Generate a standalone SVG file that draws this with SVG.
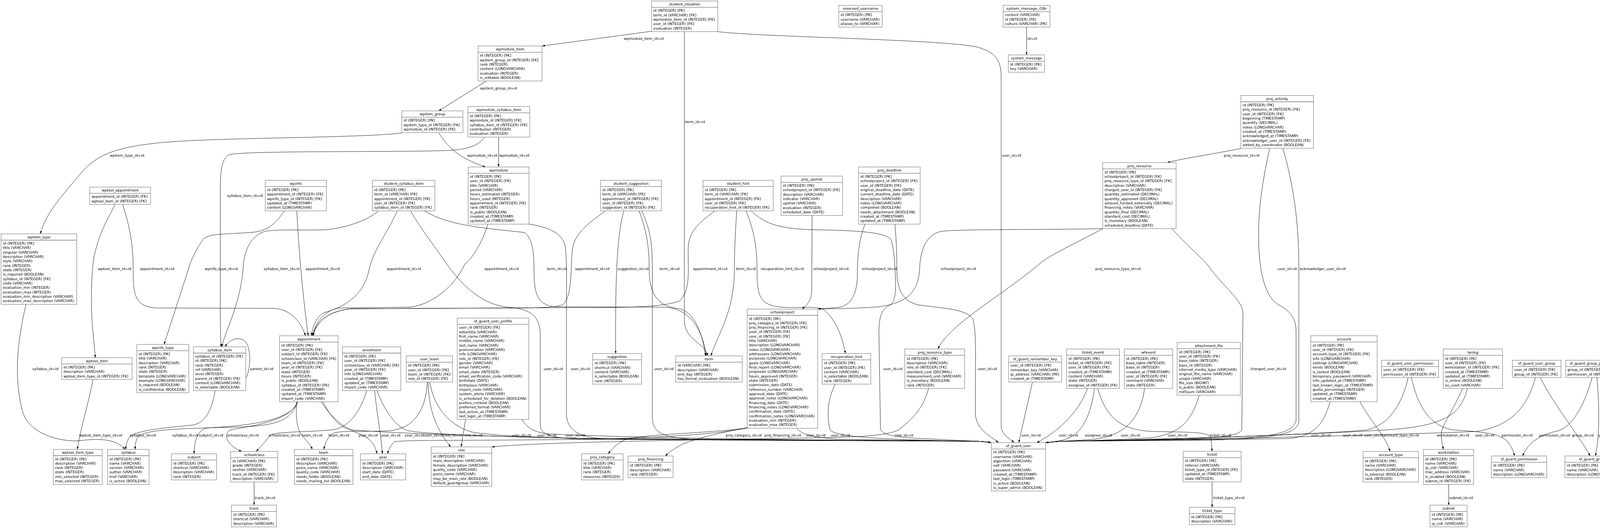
<svg xmlns="http://www.w3.org/2000/svg" width="4176" height="1351" viewBox="0 0 4176 1351">
<style>
.t{font-family:"DejaVu Sans",Verdana,sans-serif;font-size:9.2px;fill:#000}
.h{text-anchor:middle}
.b{fill:#fff;stroke:#777;stroke-width:1.1}
.s{stroke:#777;stroke-width:1.3}
.e{fill:none;stroke:#000;stroke-width:0.9;marker-end:url(#a)}
</style>
<defs>
<marker id="a" viewBox="0 0 10 7" refX="10" refY="3.5" markerWidth="7" markerHeight="4.9" markerUnits="userSpaceOnUse" orient="auto"><path d="M0,0L10,3.5L0,7z" fill="#000"/></marker>
</defs>
<rect width="4176" height="1351" fill="#fff"/>
<g id="connectors">
<path class="e" d="M1668,80 L1388,117.7"/>
<path class="e" d="M1752,81 L1752,820 C1752,870 1806,878 1812,910.6"/>
<path class="e" d="M1838,81 C1950,95 2400,100 2500,120 C2555,135 2563,160 2563,200 L2563,1090 C2563,1112 2585,1122 2596,1132.5"/>
<path class="e" d="M1244,208 L1123,283.7"/>
<path class="e" d="M1029,340 C950,352 600,352 450,362 C300,372 250,395 210,440 C160,500 120,540 103,598.4"/>
<path class="e" d="M1124,340.6 C1150,385 1190,410 1243,427.3"/>
<path class="e" d="M1276.4,350.8 L1276.4,427.3"/>
<path class="e" d="M1241,350.8 C1225,372 1200,382 1150,385 C1000,390 650,385 590,395 C570,400 564,430 564,480 L564,800 C564,850 565,870 566,887.4"/>
<path class="e" d="M66.6,778.6 C50,850 30,960 60,1060 C80,1110 150,1130 200,1128 C260,1120 300,1125 320,1149.9"/>
<path class="e" d="M295,522.8 C270,570 253,600 240,660 C232,720 232,800 240,870 L244,915.3"/>
<path class="e" d="M314,522.8 C335,590 341,630 341,700 C341,760 350,785 400,788 L700,789 C740,790 770,820 782,859.2"/>
<path class="e" d="M728,539.6 C700,580 680,592 640,595 C560,600 530,598 518,615 C505,635 490,660 482,690 L420,881.3"/>
<path class="e" d="M760,539.6 C765,650 778,780 789,859.2"/>
<path class="e" d="M969,539.6 C940,565 880,585 830,588 C760,590 690,585 670,595 C640,610 625,640 622,690 C615,780 575,850 568,887.4"/>
<path class="e" d="M1017,539.6 C990,600 955,640 945,690 C930,760 880,785 830,800 C810,810 800,835 797,859.2"/>
<path class="e" d="M1087,539.6 C1150,580 1260,585 1343,595 C1362,610 1367,640 1367,690 C1367,750 1375,780 1420,785 L1700,786 C1770,788 1800,850 1808,910.6"/>
<path class="e" d="M1051,539.6 C1080,590 1120,640 1144,676 C1190,740 1240,780 1300,786 C1360,790 1380,810 1383,850 L1383,1090 C1385,1115 1420,1122 1500,1124 L2500,1129 C2520,1130 2530,1131.5 2537,1132.5"/>
<path class="e" d="M1249,573.5 C1235,620 1210,660 1190,676 C1160,740 1100,780 1050,786 L870,788 C830,792 805,830 800,859.2"/>
<path class="e" d="M1354,573.5 C1400,580 1440,595 1447,630 C1452,680 1450,720 1450,800 L1450,1060 C1452,1100 1480,1118 1540,1122 L2500,1129 C2520,1130 2530,1131.5 2537,1132.5"/>
<path class="e" d="M1550,539.6 C1500,575 1470,600 1465,640 C1460,700 1465,760 1440,780 C1420,788 1350,788 1300,788 L900,790 C840,795 808,825 800,859.2"/>
<path class="e" d="M1597,539.6 C1580,600 1575,700 1576,904.6"/>
<path class="e" d="M1636,539.6 C1655,590 1662,630 1662,690 C1662,760 1690,785 1740,790 C1780,800 1800,860 1806,910.6"/>
<path class="e" d="M1643,539.6 C1665,590 1670,620 1670,690 L1670,1070 C1672,1110 1700,1122 1800,1125 L2500,1129 C2520,1130 2530,1131.5 2537,1132.5"/>
<path class="e" d="M1830,539.6 C1790,570 1765,590 1762,630 C1760,690 1770,740 1740,770 C1700,786 1600,787 1500,787 L900,790 C840,795 808,825 802,859.2"/>
<path class="e" d="M1886,539.6 C1882,600 1880,650 1880,690 C1880,800 1835,860 1820,910.6"/>
<path class="e" d="M1910,539.6 C1930,590 1938,630 1938,690 C1938,760 1945,780 2000,786 C2050,789 2090,782 2108,792 C2132,810 2155,850 2164,904.6"/>
<path class="e" d="M1923,539.6 C1960,575 2000,586 2088,588 C2200,590 2270,594 2282,615 C2288,640 2290,660 2292,700 C2295,760 2290,778 2270,785 C2258,795 2250,810 2250,850 L2254,1098 C2260,1115 2300,1120 2400,1124 L2500,1129 C2520,1130 2530,1131.5 2537,1132.5"/>
<path class="e" d="M2079,551 L2078,740 C2078,770 2066,780 2053,790.9"/>
<path class="e" d="M2214.5,573.5 C2200,610 2195,650 2195,700 C2195,750 2180,780 2150,786 C2120,789 2105,790 2094,790.5"/>
<path class="e" d="M2291,573.5 C2294,610 2296,640 2296,690 C2296,740 2310,770 2350,780 C2420,790 2470,790 2490,815 C2500,850 2497,900 2497,1000 L2497,1060 C2500,1100 2535,1115 2556,1132.5"/>
<path class="e" d="M2823,585 C2700,588 2450,586 2410,592 C2370,600 2356,640 2354,690 C2350,750 2320,775 2250,785 C2180,790 2120,790 2094,790.5"/>
<path class="e" d="M2823,585 C2760,620 2690,650 2660,676 C2560,760 2430,830 2401,893"/>
<path class="e" d="M3000,585 C3050,640 3090,670 3100,690 C3140,740 3180,770 3182,800 L3179,1100 C3170,1118 3100,1122 3000,1124 L2720,1129 C2700,1130 2690,1131.5 2677,1132.5"/>
<path class="e" d="M3177,380 C3100,395 3030,405 2988,416"/>
<path class="e" d="M3250.5,379.3 C3235,450 3222,520 3222,600 C3222,700 3240,760 3272,779 C3300,795 3318,810 3318,850 L3318,1076 C3310,1110 3250,1120 3100,1124 L2720,1129 C2700,1130 2690,1131.5 2677,1132.5"/>
<path class="e" d="M3284,379.3 C3305,450 3325,550 3325,676 L3325,1080 C3318,1112 3260,1122 3100,1126 L2720,1129 C2700,1130 2690,1131.5 2677,1132.5"/>
<path class="e" d="M238,970.9 C225,1040 205,1100 198,1149.9"/>
<path class="e" d="M551,999.6 C540,1060 520,1085 490,1088 C420,1095 360,1100 335,1115 C325,1125 322,1140 322,1149.9"/>
<path class="e" d="M629.2,968 C640,950 645,900 630,876 C615,860 590,865 576,887.4"/>
<path class="e" d="M762,1028 C745,1080 700,1090 600,1093 C480,1096 380,1098 355,1115 C348,1125 346,1135 346,1149.9"/>
<path class="e" d="M762,1028 C745,1080 620,1090 530,1095 C505,1100 497,1130 497,1161.1"/>
<path class="e" d="M762,1028 C740,1080 640,1090 590,1100 C570,1110 580,1140 619,1155.1"/>
<path class="e" d="M759,1028 C758,1060 758,1090 770,1110 C780,1125 795,1135 799,1149.9"/>
<path class="e" d="M822,1028 C850,1070 880,1095 920,1110 C945,1120 960,1135 965,1161.1"/>
<path class="e" d="M826,1028 C850,1070 870,1095 900,1100 C1000,1108 1200,1115 1500,1122 L2500,1129 C2520,1130 2530,1131.5 2537,1132.5"/>
<path class="e" d="M939,999.6 C920,1060 890,1095 850,1100 C780,1106 700,1104 690,1115 C680,1130 665,1145 656,1155.1"/>
<path class="e" d="M959,999.6 C965,1060 975,1110 979,1161.1"/>
<path class="e" d="M965,999.6 C985,1050 1010,1090 1044,1102 C1100,1112 1300,1118 1500,1122 L2500,1129 C2520,1130 2530,1131.5 2537,1132.5"/>
<path class="e" d="M1094,977.5 C1090,1050 1060,1095 1000,1102 C920,1106 870,1100 850,1110 C838,1120 832,1135 829,1149.9"/>
<path class="e" d="M1096,977.5 C1098,1040 1110,1090 1154,1143.5"/>
<path class="e" d="M1100,977.5 C1110,1040 1150,1090 1210,1106 C1300,1120 1500,1124 2000,1127 L2500,1129 C2520,1130 2530,1131.5 2537,1132.5"/>
<path class="e" d="M1192,1073 L1180.5,1143.5"/>
<path class="e" d="M1336,1073 C1350,1095 1365,1105 1400,1110 C1600,1120 2000,1126 2500,1129 C2520,1130 2530,1131.5 2537,1132.5"/>
<path class="e" d="M2377,994 C2365,1040 2340,1070 2300,1100 C2270,1115 2200,1118 2100,1120 C1800,1126 1400,1130 1259,1143.5"/>
<path class="e" d="M1913,1095 C1800,1110 1650,1110 1600,1125 C1580,1135 1565,1150 1557,1161.1"/>
<path class="e" d="M1915,1095 C1850,1105 1790,1120 1750,1135 C1730,1145 1715,1155 1703,1166.7"/>
<path class="e" d="M1913,1094 C1850,1110 1700,1120 1500,1124 C1200,1128 1050,1125 1010,1130 C1000,1140 995,1150 992,1161.1"/>
<path class="e" d="M2039,1095.7 C2050,1110 2080,1120 2150,1124 L2500,1129 C2520,1130 2530,1131.5 2537,1132.5"/>
<path class="e" d="M2138,982.8 C2120,1020 2115,1060 2125,1100 C2140,1118 2250,1125 2500,1129 C2520,1130 2530,1131.5 2537,1132.5"/>
<path class="e" d="M650.5,1233.4 L650.5,1292.5"/>
<path class="e" d="M2628,69.4 L2628,140.5"/>
<path class="e" d="M2643,977.5 L2608,1132.5"/>
<path class="e" d="M2784,993.9 C2760,1060 2700,1110 2654,1132.5"/>
<path class="e" d="M2802,993.9 C2790,1080 2760,1120 2715,1127 C2700,1130 2690,1131.5 2677,1132.5"/>
<path class="e" d="M2810,993.9 C2830,1060 2860,1100 2950,1104 C3050,1106 3095,1105 3100,1120 L3103,1154.7"/>
<path class="e" d="M2930,993.9 C2920,1070 2880,1115 2800,1124 L2720,1129 C2700,1130 2690,1131.5 2677,1132.5"/>
<path class="e" d="M3070,1011.1 C3050,1080 3020,1108 2950,1120 C2850,1126 2760,1128 2720,1129 C2700,1130 2690,1131.5 2677,1132.5"/>
<path class="e" d="M3103,1233 L3103,1298"/>
<path class="e" d="M3405,1028 C3390,1080 3370,1115 3300,1122 C3100,1126 2800,1128 2720,1129 C2700,1130 2690,1131.5 2677,1132.5"/>
<path class="e" d="M3481.5,1028 C3510,1080 3550,1120 3558,1155.1"/>
<path class="e" d="M3605,966 C3590,1030 3560,1085 3500,1100 C3400,1110 3000,1125 2720,1129 C2700,1130 2690,1131.5 2677,1132.5"/>
<path class="e" d="M3613,966 C3630,1040 3660,1090 3720,1100 C3800,1105 3840,1110 3860,1130 C3870,1145 3875,1155 3877,1166.7"/>
<path class="e" d="M3744.5,993.9 C3720,1050 3690,1090 3690,1110 C3690,1130 3693,1140 3695,1149.9"/>
<path class="e" d="M3756.5,993.9 C3740,1060 3700,1090 3550,1100 C3300,1115 2900,1126 2720,1129 C2700,1130 2690,1131.5 2677,1132.5"/>
<path class="e" d="M3931,966 C3910,1040 3870,1090 3780,1104 C3500,1115 3000,1126 2720,1129 C2700,1130 2690,1131.5 2677,1132.5"/>
<path class="e" d="M3943,966 C3980,1040 4040,1110 4070.7,1166.7"/>
<path class="e" d="M4076,966 C4055,1040 4025,1090 3990,1102 C3930,1115 3910,1140 3897.6,1166.7"/>
<path class="e" d="M4088,966 C4095,1040 4095,1120 4084,1166.7"/>
<path class="e" d="M3708.6,1239.5 L3708.6,1292.5"/>
<g class="t">
<text x="1597" y="102">wpmodule_item_id=id</text>
<text x="1754" y="314.5">term_id=id</text>
<text x="2565" y="401">user_id=id</text>
<text x="1229" y="228.7">wpitem_group_id=id</text>
<text x="281" y="401">wpitem_type_id=id</text>
<text x="1196" y="401">wpmodule_id=id</text>
<text x="1278" y="401">wpmodule_id=id</text>
<text x="581" y="504">syllabus_item_id=id</text>
<text x="83" y="946.5">syllabus_id=id</text>
<text x="251" y="691">wptool_item_id=id</text>
<text x="358" y="691">appointment_id=id</text>
<text x="524" y="691">wpinfo_type_id=id</text>
<text x="782" y="691">appointment_id=id</text>
<text x="675" y="691">syllabus_item_id=id</text>
<text x="990" y="691">appointment_id=id</text>
<text x="1400" y="691">term_id=id</text>
<text x="1392" y="946.5">user_id=id</text>
<text x="1240" y="691">appointment_id=id</text>
<text x="1461" y="946.5">user_id=id</text>
<text x="1472" y="691">appointment_id=id</text>
<text x="1581" y="691">suggestion_id=id</text>
<text x="1688.5" y="691">term_id=id</text>
<text x="1675" y="946.5">user_id=id</text>
<text x="1774" y="691">appointment_id=id</text>
<text x="1884" y="691">term_id=id</text>
<text x="1947.5" y="691">recuperation_hint_id=id</text>
<text x="2261" y="946.5">user_id=id</text>
<text x="2082" y="691">schoolproject_id=id</text>
<text x="2206" y="691">schoolproject_id=id</text>
<text x="2503" y="946.5">user_id=id</text>
<text x="2408" y="691">schoolproject_id=id</text>
<text x="2804" y="691">proj_resource_type_id=id</text>
<text x="3201" y="946.5">charged_user_id=id</text>
<text x="3133" y="401">proj_resource_id=id</text>
<text x="3270.5" y="691">user_id=id</text>
<text x="3327" y="691">acknowledger_user_id=id</text>
<text x="202.4" y="1117">wptool_item_type_id=id</text>
<text x="332" y="1117">syllabus_id=id</text>
<text x="640.5" y="946.5">parent_id=id</text>
<text x="441" y="1117">syllabus_id=id</text>
<text x="509" y="1117">subject_id=id</text>
<text x="581" y="1117">schoolclass_id=id</text>
<text x="772.3" y="1117">team_id=id</text>
<text x="917.4" y="1117">year_id=id</text>
<text x="1448" y="1117">user_id=id</text>
<text x="687" y="1117">schoolclass_id=id</text>
<text x="975.4" y="1117">year_id=id</text>
<text x="1086" y="1117">user_id=id</text>
<text x="841" y="1117">team_id=id</text>
<text x="1136" y="1117">role_id=id</text>
<text x="1310" y="1117">user_id=id</text>
<text x="1188" y="1117">role_id=id</text>
<text x="1375" y="1117">user_id=id</text>
<text x="2291" y="1117">role_id=id</text>
<text x="1858" y="1117">proj_category_id=id</text>
<text x="1957" y="1117">proj_financing_id=id</text>
<text x="1036" y="1117">year_id=id</text>
<text x="2064" y="1117">user_id=id</text>
<text x="2127" y="1117">user_id=id</text>
<text x="652" y="1277">track_id=id</text>
<text x="2630" y="102">id=id</text>
<text x="2615" y="1117">user_id=id</text>
<text x="2710.5" y="1117">user_id=id</text>
<text x="2777" y="1117">assignee_id=id</text>
<text x="3097" y="1117">ticket_id=id</text>
<text x="2869" y="1117">user_id=id</text>
<text x="2990" y="1117">user_id=id</text>
<text x="3106" y="1277">ticket_type_id=id</text>
<text x="3357" y="1117">user_id=id</text>
<text x="3541.5" y="1117">account_type_id=id</text>
<text x="3492" y="1117">user_id=id</text>
<text x="3844" y="1117">permission_id=id</text>
<text x="3678" y="1117">workstation_id=id</text>
<text x="3438" y="1117">user_id=id</text>
<text x="3776" y="1117">user_id=id</text>
<text x="4024" y="1117">group_id=id</text>
<text x="3940" y="1117">permission_id=id</text>
<text x="4092" y="1117">group_id=id</text>
<text x="3710" y="1277">subnet_id=id</text>
</g>
</g>
<g id="student_situation"><rect class="b" x="1667.8" y="2.6" width="169.8" height="78.25"/><line class="s" x1="1667.8" y1="18.7" x2="1837.6" y2="18.7"/><text class="t h" x="1752.7" y="14.1">student_situation</text><text class="t"><tspan x="1672.3" y="30.2">id (INTEGER) [PK]</tspan><tspan x="1672.3" dy="11.33">term_id (VARCHAR) [FK]</tspan><tspan x="1672.3" dy="11.33">wpmodule_item_id (INTEGER) [FK]</tspan><tspan x="1672.3" dy="11.33">user_id (INTEGER) [FK]</tspan><tspan x="1672.3" dy="11.33">evaluation (INTEGER)</tspan></text></g>
<g id="reserved_username"><rect class="b" x="2147.3" y="13.8" width="111.1" height="55.6"/><line class="s" x1="2147.3" y1="29.9" x2="2258.4" y2="29.9"/><text class="t h" x="2202.9" y="25.3">reserved_username</text><text class="t"><tspan x="2151.8" y="41.4">id (INTEGER) [PK]</tspan><tspan x="2151.8" dy="11.33">username (VARCHAR)</tspan><tspan x="2151.8" dy="11.33">aliases_to (VARCHAR)</tspan></text></g>
<g id="system_message_i18n"><rect class="b" x="2568" y="13.8" width="119.9" height="55.6"/><line class="s" x1="2568" y1="29.9" x2="2687.9" y2="29.9"/><text class="t h" x="2628" y="25.3">system_message_i18n</text><text class="t"><tspan x="2572.5" y="41.4">content (VARCHAR)</tspan><tspan x="2572.5" dy="11.33">id (INTEGER) [FK]</tspan><tspan x="2572.5" dy="11.33">culture (VARCHAR) [PK]</tspan></text></g>
<g id="system_message"><rect class="b" x="2581.3" y="140.5" width="92.6" height="44.26"/><line class="s" x1="2581.3" y1="156.6" x2="2673.9" y2="156.6"/><text class="t h" x="2627.6" y="152">system_message</text><text class="t"><tspan x="2585.8" y="168.1">id (INTEGER) [PK]</tspan><tspan x="2585.8" dy="11.33">key (VARCHAR)</tspan></text></g>
<g id="wpmodule_item"><rect class="b" x="1223.8" y="117.7" width="163.7" height="89.58"/><line class="s" x1="1223.8" y1="133.8" x2="1387.5" y2="133.8"/><text class="t h" x="1305.7" y="129.2">wpmodule_item</text><text class="t"><tspan x="1228.3" y="145.3">id (INTEGER) [PK]</tspan><tspan x="1228.3" dy="11.33">wpitem_group_id (INTEGER) [FK]</tspan><tspan x="1228.3" dy="11.33">rank (INTEGER)</tspan><tspan x="1228.3" dy="11.33">content (LONGVARCHAR)</tspan><tspan x="1228.3" dy="11.33">evaluation (INTEGER)</tspan><tspan x="1228.3" dy="11.33">is_editable (BOOLEAN)</tspan></text></g>
<g id="wpitem_group"><rect class="b" x="1028.6" y="283.7" width="156.5" height="55.6"/><line class="s" x1="1028.6" y1="299.8" x2="1185.1" y2="299.8"/><text class="t h" x="1106.9" y="295.2">wpitem_group</text><text class="t"><tspan x="1033.1" y="311.3">id (INTEGER) [PK]</tspan><tspan x="1033.1" dy="11.33">wpitem_type_id (INTEGER) [FK]</tspan><tspan x="1033.1" dy="11.33">wpmodule_id (INTEGER) [FK]</tspan></text></g>
<g id="wpmodule_syllabus_item"><rect class="b" x="1197.8" y="272.5" width="158.4" height="78.25"/><line class="s" x1="1197.8" y1="288.6" x2="1356.2" y2="288.6"/><text class="t h" x="1277" y="284">wpmodule_syllabus_item</text><text class="t"><tspan x="1202.3" y="300.1">id (INTEGER) [PK]</tspan><tspan x="1202.3" dy="11.33">wpmodule_id (INTEGER) [FK]</tspan><tspan x="1202.3" dy="11.33">syllabus_item_id (INTEGER) [FK]</tspan><tspan x="1202.3" dy="11.33">contribution (INTEGER)</tspan><tspan x="1202.3" dy="11.33">evaluation (INTEGER)</tspan></text></g>
<g id="proj_activity"><rect class="b" x="3176.6" y="244.4" width="185.8" height="134.9"/><line class="s" x1="3176.6" y1="260.5" x2="3362.4" y2="260.5"/><text class="t h" x="3269.5" y="255.9">proj_activity</text><text class="t"><tspan x="3181.1" y="272">id (INTEGER) [PK]</tspan><tspan x="3181.1" dy="11.33">proj_resource_id (INTEGER) [FK]</tspan><tspan x="3181.1" dy="11.33">user_id (INTEGER) [FK]</tspan><tspan x="3181.1" dy="11.33">beginning (TIMESTAMP)</tspan><tspan x="3181.1" dy="11.33">quantity (DECIMAL)</tspan><tspan x="3181.1" dy="11.33">notes (LONGVARCHAR)</tspan><tspan x="3181.1" dy="11.33">created_at (TIMESTAMP)</tspan><tspan x="3181.1" dy="11.33">acknowledged_at (TIMESTAMP)</tspan><tspan x="3181.1" dy="11.33">acknowledger_user_id (INTEGER) [FK]</tspan><tspan x="3181.1" dy="11.33">added_by_coordinator (BOOLEAN)</tspan></text></g>
<g id="wpmodule"><rect class="b" x="1198.5" y="427.3" width="155.8" height="146.2"/><line class="s" x1="1198.5" y1="443.4" x2="1354.3" y2="443.4"/><text class="t h" x="1276.4" y="438.8">wpmodule</text><text class="t"><tspan x="1203" y="454.9">id (INTEGER) [PK]</tspan><tspan x="1203" dy="11.33">user_id (INTEGER) [FK]</tspan><tspan x="1203" dy="11.33">title (VARCHAR)</tspan><tspan x="1203" dy="11.33">period (VARCHAR)</tspan><tspan x="1203" dy="11.33">hours_estimated (INTEGER)</tspan><tspan x="1203" dy="11.33">hours_used (INTEGER)</tspan><tspan x="1203" dy="11.33">appointment_id (INTEGER) [FK]</tspan><tspan x="1203" dy="11.33">rank (INTEGER)</tspan><tspan x="1203" dy="11.33">is_public (BOOLEAN)</tspan><tspan x="1203" dy="11.33">created_at (TIMESTAMP)</tspan><tspan x="1203" dy="11.33">updated_at (TIMESTAMP)</tspan></text></g>
<g id="proj_resource"><rect class="b" x="2823" y="416" width="187.8" height="168.9"/><line class="s" x1="2823" y1="432.1" x2="3010.8" y2="432.1"/><text class="t h" x="2916.9" y="427.5">proj_resource</text><text class="t"><tspan x="2827.5" y="443.6">id (INTEGER) [PK]</tspan><tspan x="2827.5" dy="11.33">schoolproject_id (INTEGER) [FK]</tspan><tspan x="2827.5" dy="11.33">proj_resource_type_id (INTEGER) [FK]</tspan><tspan x="2827.5" dy="11.33">description (VARCHAR)</tspan><tspan x="2827.5" dy="11.33">charged_user_id (INTEGER) [FK]</tspan><tspan x="2827.5" dy="11.33">quantity_estimated (DECIMAL)</tspan><tspan x="2827.5" dy="11.33">quantity_approved (DECIMAL)</tspan><tspan x="2827.5" dy="11.33">amount_funded_externally (DECIMAL)</tspan><tspan x="2827.5" dy="11.33">financing_notes (VARCHAR)</tspan><tspan x="2827.5" dy="11.33">quantity_final (DECIMAL)</tspan><tspan x="2827.5" dy="11.33">standard_cost (DECIMAL)</tspan><tspan x="2827.5" dy="11.33">is_monetary (BOOLEAN)</tspan><tspan x="2827.5" dy="11.33">scheduled_deadline (DATE)</tspan></text></g>
<g id="proj_deadline"><rect class="b" x="2197.9" y="427.3" width="157.7" height="146.2"/><line class="s" x1="2197.9" y1="443.4" x2="2355.6" y2="443.4"/><text class="t h" x="2276.8" y="438.8">proj_deadline</text><text class="t"><tspan x="2202.4" y="454.9">id (INTEGER) [PK]</tspan><tspan x="2202.4" dy="11.33">schoolproject_id (INTEGER) [FK]</tspan><tspan x="2202.4" dy="11.33">user_id (INTEGER) [FK]</tspan><tspan x="2202.4" dy="11.33">original_deadline_date (DATE)</tspan><tspan x="2202.4" dy="11.33">current_deadline_date (DATE)</tspan><tspan x="2202.4" dy="11.33">description (VARCHAR)</tspan><tspan x="2202.4" dy="11.33">notes (LONGVARCHAR)</tspan><tspan x="2202.4" dy="11.33">completed (BOOLEAN)</tspan><tspan x="2202.4" dy="11.33">needs_attachment (BOOLEAN)</tspan><tspan x="2202.4" dy="11.33">created_at (TIMESTAMP)</tspan><tspan x="2202.4" dy="11.33">updated_at (TIMESTAMP)</tspan></text></g>
<g id="proj_upshot"><rect class="b" x="1999.4" y="450.5" width="157.8" height="100.9"/><line class="s" x1="1999.4" y1="466.6" x2="2157.2" y2="466.6"/><text class="t h" x="2078.3" y="462">proj_upshot</text><text class="t"><tspan x="2003.9" y="478.1">id (INTEGER) [PK]</tspan><tspan x="2003.9" dy="11.33">schoolproject_id (INTEGER) [FK]</tspan><tspan x="2003.9" dy="11.33">description (VARCHAR)</tspan><tspan x="2003.9" dy="11.33">indicator (VARCHAR)</tspan><tspan x="2003.9" dy="11.33">upshot (VARCHAR)</tspan><tspan x="2003.9" dy="11.33">evaluation (INTEGER)</tspan><tspan x="2003.9" dy="11.33">scheduled_date (DATE)</tspan></text></g>
<g id="student_hint"><rect class="b" x="1799.6" y="461.3" width="179.8" height="78.25"/><line class="s" x1="1799.6" y1="477.4" x2="1979.4" y2="477.4"/><text class="t h" x="1889.5" y="472.8">student_hint</text><text class="t"><tspan x="1804.1" y="488.9">id (INTEGER) [PK]</tspan><tspan x="1804.1" dy="11.33">term_id (VARCHAR) [FK]</tspan><tspan x="1804.1" dy="11.33">appointment_id (INTEGER) [FK]</tspan><tspan x="1804.1" dy="11.33">user_id (INTEGER) [FK]</tspan><tspan x="1804.1" dy="11.33">recuperation_hint_id (INTEGER) [FK]</tspan></text></g>
<g id="student_suggestion"><rect class="b" x="1537.3" y="461.3" width="155.8" height="78.25"/><line class="s" x1="1537.3" y1="477.4" x2="1693.1" y2="477.4"/><text class="t h" x="1615.2" y="472.8">student_suggestion</text><text class="t"><tspan x="1541.8" y="488.9">id (INTEGER) [PK]</tspan><tspan x="1541.8" dy="11.33">term_id (VARCHAR) [FK]</tspan><tspan x="1541.8" dy="11.33">appointment_id (INTEGER) [FK]</tspan><tspan x="1541.8" dy="11.33">user_id (INTEGER) [FK]</tspan><tspan x="1541.8" dy="11.33">suggestion_id (INTEGER) [FK]</tspan></text></g>
<g id="student_syllabus_item"><rect class="b" x="953.4" y="461.3" width="159.8" height="78.25"/><line class="s" x1="953.4" y1="477.4" x2="1113.2" y2="477.4"/><text class="t h" x="1033.3" y="472.8">student_syllabus_item</text><text class="t"><tspan x="957.9" y="488.9">id (INTEGER) [PK]</tspan><tspan x="957.9" dy="11.33">term_id (VARCHAR) [FK]</tspan><tspan x="957.9" dy="11.33">appointment_id (INTEGER) [FK]</tspan><tspan x="957.9" dy="11.33">user_id (INTEGER) [FK]</tspan><tspan x="957.9" dy="11.33">syllabus_item_id (INTEGER) [FK]</tspan></text></g>
<g id="wpinfo"><rect class="b" x="679.1" y="461.3" width="156.5" height="78.25"/><line class="s" x1="679.1" y1="477.4" x2="835.6" y2="477.4"/><text class="t h" x="757.4" y="472.8">wpinfo</text><text class="t"><tspan x="683.6" y="488.9">id (INTEGER) [PK]</tspan><tspan x="683.6" dy="11.33">appointment_id (INTEGER) [FK]</tspan><tspan x="683.6" dy="11.33">wpinfo_type_id (INTEGER) [FK]</tspan><tspan x="683.6" dy="11.33">updated_at (TIMESTAMP)</tspan><tspan x="683.6" dy="11.33">content (LONGVARCHAR)</tspan></text></g>
<g id="wptool_appointment"><rect class="b" x="229.7" y="478.6" width="155.8" height="44.26"/><line class="s" x1="229.7" y1="494.7" x2="385.5" y2="494.7"/><text class="t h" x="307.6" y="490.1">wptool_appointment</text><text class="t"><tspan x="234.2" y="506.2">appointment_id (INTEGER) [FK]</tspan><tspan x="234.2" dy="11.33">wptool_item_id (INTEGER) [FK]</tspan></text></g>
<g id="wpitem_type"><rect class="b" x="2.7" y="598.4" width="193.7" height="180.2"/><line class="s" x1="2.7" y1="614.5" x2="196.4" y2="614.5"/><text class="t h" x="99.6" y="609.9">wpitem_type</text><text class="t"><tspan x="7.2" y="626">id (INTEGER) [PK]</tspan><tspan x="7.2" dy="11.33">title (VARCHAR)</tspan><tspan x="7.2" dy="11.33">singular (VARCHAR)</tspan><tspan x="7.2" dy="11.33">description (VARCHAR)</tspan><tspan x="7.2" dy="11.33">style (VARCHAR)</tspan><tspan x="7.2" dy="11.33">rank (INTEGER)</tspan><tspan x="7.2" dy="11.33">state (INTEGER)</tspan><tspan x="7.2" dy="11.33">is_required (BOOLEAN)</tspan><tspan x="7.2" dy="11.33">syllabus_id (INTEGER) [FK]</tspan><tspan x="7.2" dy="11.33">code (VARCHAR)</tspan><tspan x="7.2" dy="11.33">evaluation_min (INTEGER)</tspan><tspan x="7.2" dy="11.33">evaluation_max (INTEGER)</tspan><tspan x="7.2" dy="11.33">evaluation_min_description (VARCHAR)</tspan><tspan x="7.2" dy="11.33">evaluation_max_description (VARCHAR)</tspan></text></g>
<g id="wptool_item"><rect class="b" x="157.8" y="915.3" width="180.4" height="55.6"/><line class="s" x1="157.8" y1="931.4" x2="338.2" y2="931.4"/><text class="t h" x="248" y="926.8">wptool_item</text><text class="t"><tspan x="162.3" y="942.9">id (INTEGER) [PK]</tspan><tspan x="162.3" dy="11.33">description (VARCHAR)</tspan><tspan x="162.3" dy="11.33">wptool_item_type_id (INTEGER) [FK]</tspan></text></g>
<g id="wpinfo_type"><rect class="b" x="350.2" y="881.3" width="133.2" height="123.6"/><line class="s" x1="350.2" y1="897.4" x2="483.4" y2="897.4"/><text class="t h" x="416.8" y="892.8">wpinfo_type</text><text class="t"><tspan x="354.7" y="908.9">id (INTEGER) [PK]</tspan><tspan x="354.7" dy="11.33">title (VARCHAR)</tspan><tspan x="354.7" dy="11.33">description (VARCHAR)</tspan><tspan x="354.7" dy="11.33">rank (INTEGER)</tspan><tspan x="354.7" dy="11.33">state (INTEGER)</tspan><tspan x="354.7" dy="11.33">template (LONGVARCHAR)</tspan><tspan x="354.7" dy="11.33">example (LONGVARCHAR)</tspan><tspan x="354.7" dy="11.33">is_required (BOOLEAN)</tspan><tspan x="354.7" dy="11.33">is_confidential (BOOLEAN)</tspan></text></g>
<g id="syllabus_item"><rect class="b" x="495.3" y="887.4" width="133.9" height="112.2"/><line class="s" x1="495.3" y1="903.5" x2="629.2" y2="903.5"/><text class="t h" x="562.3" y="898.9">syllabus_item</text><text class="t"><tspan x="499.8" y="915">syllabus_id (INTEGER) [FK]</tspan><tspan x="499.8" dy="11.33">id (INTEGER) [PK]</tspan><tspan x="499.8" dy="11.33">rank (INTEGER)</tspan><tspan x="499.8" dy="11.33">ref (VARCHAR)</tspan><tspan x="499.8" dy="11.33">level (INTEGER)</tspan><tspan x="499.8" dy="11.33">parent_id (INTEGER) [FK]</tspan><tspan x="499.8" dy="11.33">content (LONGVARCHAR)</tspan><tspan x="499.8" dy="11.33">is_selectable (BOOLEAN)</tspan></text></g>
<g id="appointment"><rect class="b" x="715.7" y="859.2" width="149.8" height="168.9"/><line class="s" x1="715.7" y1="875.3" x2="865.5" y2="875.3"/><text class="t h" x="790.6" y="870.7">appointment</text><text class="t"><tspan x="720.2" y="886.8">id (INTEGER) [PK]</tspan><tspan x="720.2" dy="11.33">user_id (INTEGER) [FK]</tspan><tspan x="720.2" dy="11.33">subject_id (INTEGER) [FK]</tspan><tspan x="720.2" dy="11.33">schoolclass_id (VARCHAR) [FK]</tspan><tspan x="720.2" dy="11.33">team_id (INTEGER) [FK]</tspan><tspan x="720.2" dy="11.33">year_id (INTEGER) [FK]</tspan><tspan x="720.2" dy="11.33">state (INTEGER)</tspan><tspan x="720.2" dy="11.33">hours (INTEGER)</tspan><tspan x="720.2" dy="11.33">is_public (BOOLEAN)</tspan><tspan x="720.2" dy="11.33">syllabus_id (INTEGER) [FK]</tspan><tspan x="720.2" dy="11.33">created_at (TIMESTAMP)</tspan><tspan x="720.2" dy="11.33">updated_at (TIMESTAMP)</tspan><tspan x="720.2" dy="11.33">import_code (VARCHAR)</tspan></text></g>
<g id="enrolment"><rect class="b" x="876.8" y="887.4" width="149.2" height="112.2"/><line class="s" x1="876.8" y1="903.5" x2="1026" y2="903.5"/><text class="t h" x="951.4" y="898.9">enrolment</text><text class="t"><tspan x="881.3" y="915">id (INTEGER) [PK]</tspan><tspan x="881.3" dy="11.33">user_id (INTEGER) [FK]</tspan><tspan x="881.3" dy="11.33">schoolclass_id (VARCHAR) [FK]</tspan><tspan x="881.3" dy="11.33">year_id (INTEGER) [FK]</tspan><tspan x="881.3" dy="11.33">info (LONGVARCHAR)</tspan><tspan x="881.3" dy="11.33">created_at (TIMESTAMP)</tspan><tspan x="881.3" dy="11.33">updated_at (TIMESTAMP)</tspan><tspan x="881.3" dy="11.33">import_code (VARCHAR)</tspan></text></g>
<g id="user_team"><rect class="b" x="1040" y="910.6" width="118.5" height="66.9"/><line class="s" x1="1040" y1="926.7" x2="1158.5" y2="926.7"/><text class="t h" x="1099.3" y="922.1">user_team</text><text class="t"><tspan x="1044.5" y="938.2">id (INTEGER) [PK]</tspan><tspan x="1044.5" dy="11.33">user_id (INTEGER) [FK]</tspan><tspan x="1044.5" dy="11.33">team_id (INTEGER) [FK]</tspan><tspan x="1044.5" dy="11.33">role_id (INTEGER) [FK]</tspan></text></g>
<g id="sf_guard_user_profile"><rect class="b" x="1170.5" y="813.8" width="183.1" height="259.5"/><line class="s" x1="1170.5" y1="829.9" x2="1353.6" y2="829.9"/><text class="t h" x="1262.1" y="825.3">sf_guard_user_profile</text><text class="t"><tspan x="1175" y="841.4">user_id (INTEGER) [FK]</tspan><tspan x="1175" dy="11.33">lettertitle (VARCHAR)</tspan><tspan x="1175" dy="11.33">first_name (VARCHAR)</tspan><tspan x="1175" dy="11.33">middle_name (VARCHAR)</tspan><tspan x="1175" dy="11.33">last_name (VARCHAR)</tspan><tspan x="1175" dy="11.33">pronunciation (VARCHAR)</tspan><tspan x="1175" dy="11.33">info (LONGVARCHAR)</tspan><tspan x="1175" dy="11.33">role_id (INTEGER) [FK]</tspan><tspan x="1175" dy="11.33">gender (VARCHAR)</tspan><tspan x="1175" dy="11.33">email (VARCHAR)</tspan><tspan x="1175" dy="11.33">email_state (INTEGER)</tspan><tspan x="1175" dy="11.33">email_verification_code (VARCHAR)</tspan><tspan x="1175" dy="11.33">birthdate (DATE)</tspan><tspan x="1175" dy="11.33">birthplace (VARCHAR)</tspan><tspan x="1175" dy="11.33">import_code (VARCHAR)</tspan><tspan x="1175" dy="11.33">system_alerts (VARCHAR)</tspan><tspan x="1175" dy="11.33">is_scheduled_for_deletion (BOOLEAN)</tspan><tspan x="1175" dy="11.33">prefers_richtext (BOOLEAN)</tspan><tspan x="1175" dy="11.33">preferred_format (VARCHAR)</tspan><tspan x="1175" dy="11.33">last_action_at (TIMESTAMP)</tspan><tspan x="1175" dy="11.33">last_login_at (TIMESTAMP)</tspan></text></g>
<g id="suggestion"><rect class="b" x="1517.4" y="904.6" width="125.1" height="78.25"/><line class="s" x1="1517.4" y1="920.7" x2="1642.5" y2="920.7"/><text class="t h" x="1580" y="916.1">suggestion</text><text class="t"><tspan x="1521.9" y="932.2">id (INTEGER) [PK]</tspan><tspan x="1521.9" dy="11.33">shortcut (VARCHAR)</tspan><tspan x="1521.9" dy="11.33">content (VARCHAR)</tspan><tspan x="1521.9" dy="11.33">is_selectable (BOOLEAN)</tspan><tspan x="1521.9" dy="11.33">rank (INTEGER)</tspan></text></g>
<g id="term"><rect class="b" x="1729.7" y="910.6" width="170.5" height="66.9"/><line class="s" x1="1729.7" y1="926.7" x2="1900.2" y2="926.7"/><text class="t h" x="1815" y="922.1">term</text><text class="t"><tspan x="1734.2" y="938.2">id (VARCHAR) [PK]</tspan><tspan x="1734.2" dy="11.33">description (VARCHAR)</tspan><tspan x="1734.2" dy="11.33">end_day (INTEGER)</tspan><tspan x="1734.2" dy="11.33">has_formal_evaluation (BOOLEAN)</tspan></text></g>
<g id="schoolproject"><rect class="b" x="1912.8" y="790.9" width="180.5" height="304.85"/><line class="s" x1="1912.8" y1="807" x2="2093.3" y2="807"/><text class="t h" x="2003" y="802.4">schoolproject</text><text class="t"><tspan x="1917.3" y="818.5">id (INTEGER) [PK]</tspan><tspan x="1917.3" dy="11.33">proj_category_id (INTEGER) [FK]</tspan><tspan x="1917.3" dy="11.33">proj_financing_id (INTEGER) [FK]</tspan><tspan x="1917.3" dy="11.33">year_id (INTEGER) [FK]</tspan><tspan x="1917.3" dy="11.33">user_id (INTEGER) [FK]</tspan><tspan x="1917.3" dy="11.33">title (VARCHAR)</tspan><tspan x="1917.3" dy="11.33">description (LONGVARCHAR)</tspan><tspan x="1917.3" dy="11.33">notes (LONGVARCHAR)</tspan><tspan x="1917.3" dy="11.33">addressees (LONGVARCHAR)</tspan><tspan x="1917.3" dy="11.33">purposes (LONGVARCHAR)</tspan><tspan x="1917.3" dy="11.33">goals (LONGVARCHAR)</tspan><tspan x="1917.3" dy="11.33">final_report (LONGVARCHAR)</tspan><tspan x="1917.3" dy="11.33">proposals (LONGVARCHAR)</tspan><tspan x="1917.3" dy="11.33">hours_approved (INTEGER)</tspan><tspan x="1917.3" dy="11.33">state (INTEGER)</tspan><tspan x="1917.3" dy="11.33">submission_date (DATE)</tspan><tspan x="1917.3" dy="11.33">reference_number (VARCHAR)</tspan><tspan x="1917.3" dy="11.33">approval_date (DATE)</tspan><tspan x="1917.3" dy="11.33">approval_notes (LONGVARCHAR)</tspan><tspan x="1917.3" dy="11.33">financing_date (DATE)</tspan><tspan x="1917.3" dy="11.33">financing_notes (LONGVARCHAR)</tspan><tspan x="1917.3" dy="11.33">confirmation_date (DATE)</tspan><tspan x="1917.3" dy="11.33">confirmation_notes (LONGVARCHAR)</tspan><tspan x="1917.3" dy="11.33">evaluation_min (INTEGER)</tspan><tspan x="1917.3" dy="11.33">evaluation_max (INTEGER)</tspan></text></g>
<g id="recuperation_hint"><rect class="b" x="2104.6" y="904.6" width="124.5" height="78.25"/><line class="s" x1="2104.6" y1="920.7" x2="2229.1" y2="920.7"/><text class="t h" x="2166.9" y="916.1">recuperation_hint</text><text class="t"><tspan x="2109.1" y="932.2">id (INTEGER) [PK]</tspan><tspan x="2109.1" dy="11.33">user_id (INTEGER) [FK]</tspan><tspan x="2109.1" dy="11.33">content (VARCHAR)</tspan><tspan x="2109.1" dy="11.33">is_selectable (BOOLEAN)</tspan><tspan x="2109.1" dy="11.33">rank (INTEGER)</tspan></text></g>
<g id="proj_resource_type"><rect class="b" x="2316.4" y="893" width="153.1" height="100.9"/><line class="s" x1="2316.4" y1="909.1" x2="2469.5" y2="909.1"/><text class="t h" x="2393" y="904.5">proj_resource_type</text><text class="t"><tspan x="2320.9" y="920.6">id (INTEGER) [PK]</tspan><tspan x="2320.9" dy="11.33">description (VARCHAR)</tspan><tspan x="2320.9" dy="11.33">role_id (INTEGER) [FK]</tspan><tspan x="2320.9" dy="11.33">standard_cost (DECIMAL)</tspan><tspan x="2320.9" dy="11.33">measurement_unit (VARCHAR)</tspan><tspan x="2320.9" dy="11.33">is_monetary (BOOLEAN)</tspan><tspan x="2320.9" dy="11.33">rank (INTEGER)</tspan></text></g>
<g id="sf_guard_remember_key"><rect class="b" x="2582" y="910.6" width="135.8" height="66.9"/><line class="s" x1="2582" y1="926.7" x2="2717.8" y2="926.7"/><text class="t h" x="2649.9" y="922.1">sf_guard_remember_key</text><text class="t"><tspan x="2586.5" y="938.2">user_id (INTEGER) [FK]</tspan><tspan x="2586.5" dy="11.33">remember_key (VARCHAR)</tspan><tspan x="2586.5" dy="11.33">ip_address (VARCHAR) [PK]</tspan><tspan x="2586.5" dy="11.33">created_at (TIMESTAMP)</tspan></text></g>
<g id="ticket_event"><rect class="b" x="2730.5" y="893" width="135.1" height="100.9"/><line class="s" x1="2730.5" y1="909.1" x2="2865.6" y2="909.1"/><text class="t h" x="2798" y="904.5">ticket_event</text><text class="t"><tspan x="2735" y="920.6">id (INTEGER) [PK]</tspan><tspan x="2735" dy="11.33">ticket_id (INTEGER) [FK]</tspan><tspan x="2735" dy="11.33">user_id (INTEGER) [FK]</tspan><tspan x="2735" dy="11.33">created_at (TIMESTAMP)</tspan><tspan x="2735" dy="11.33">content (VARCHAR)</tspan><tspan x="2735" dy="11.33">state (INTEGER)</tspan><tspan x="2735" dy="11.33">assignee_id (INTEGER) [FK]</tspan></text></g>
<g id="wfevent"><rect class="b" x="2878.3" y="893" width="123.8" height="100.9"/><line class="s" x1="2878.3" y1="909.1" x2="3002.1" y2="909.1"/><text class="t h" x="2940.2" y="904.5">wfevent</text><text class="t"><tspan x="2882.8" y="920.6">id (INTEGER) [PK]</tspan><tspan x="2882.8" dy="11.33">base_table (INTEGER)</tspan><tspan x="2882.8" dy="11.33">base_id (INTEGER)</tspan><tspan x="2882.8" dy="11.33">created_at (TIMESTAMP)</tspan><tspan x="2882.8" dy="11.33">user_id (INTEGER) [FK]</tspan><tspan x="2882.8" dy="11.33">comment (VARCHAR)</tspan><tspan x="2882.8" dy="11.33">state (INTEGER)</tspan></text></g>
<g id="attachment_file"><rect class="b" x="3013.4" y="876.2" width="161.9" height="134.9"/><line class="s" x1="3013.4" y1="892.3" x2="3175.3" y2="892.3"/><text class="t h" x="3094.4" y="887.7">attachment_file</text><text class="t"><tspan x="3017.9" y="903.8">id (INTEGER) [PK]</tspan><tspan x="3017.9" dy="11.33">user_id (INTEGER) [FK]</tspan><tspan x="3017.9" dy="11.33">base_table (INTEGER)</tspan><tspan x="3017.9" dy="11.33">base_id (INTEGER)</tspan><tspan x="3017.9" dy="11.33">internet_media_type (VARCHAR)</tspan><tspan x="3017.9" dy="11.33">original_file_name (VARCHAR)</tspan><tspan x="3017.9" dy="11.33">uniqid (VARCHAR)</tspan><tspan x="3017.9" dy="11.33">file_size (BIGINT)</tspan><tspan x="3017.9" dy="11.33">is_public (BOOLEAN)</tspan><tspan x="3017.9" dy="11.33">md5sum (VARCHAR)</tspan></text></g>
<g id="account"><rect class="b" x="3355.7" y="859" width="169.8" height="168.9"/><line class="s" x1="3355.7" y1="875.1" x2="3525.5" y2="875.1"/><text class="t h" x="3440.6" y="870.5">account</text><text class="t"><tspan x="3360.2" y="886.6">id (INTEGER) [PK]</tspan><tspan x="3360.2" dy="11.33">user_id (INTEGER) [FK]</tspan><tspan x="3360.2" dy="11.33">account_type_id (INTEGER) [FK]</tspan><tspan x="3360.2" dy="11.33">info (LONGVARCHAR)</tspan><tspan x="3360.2" dy="11.33">settings (LONGVARCHAR)</tspan><tspan x="3360.2" dy="11.33">exists (BOOLEAN)</tspan><tspan x="3360.2" dy="11.33">is_locked (BOOLEAN)</tspan><tspan x="3360.2" dy="11.33">temporary_password (VARCHAR)</tspan><tspan x="3360.2" dy="11.33">info_updated_at (TIMESTAMP)</tspan><tspan x="3360.2" dy="11.33">last_known_login_at (TIMESTAMP)</tspan><tspan x="3360.2" dy="11.33">quota_percentage (INTEGER)</tspan><tspan x="3360.2" dy="11.33">updated_at (TIMESTAMP)</tspan><tspan x="3360.2" dy="11.33">created_at (TIMESTAMP)</tspan></text></g>
<g id="sf_guard_user_permission"><rect class="b" x="3536.8" y="921.8" width="145.8" height="44.26"/><line class="s" x1="3536.8" y1="937.9" x2="3682.6" y2="937.9"/><text class="t h" x="3609.7" y="933.3">sf_guard_user_permission</text><text class="t"><tspan x="3541.3" y="949.4">user_id (INTEGER) [FK]</tspan><tspan x="3541.3" dy="11.33">permission_id (INTEGER) [FK]</tspan></text></g>
<g id="lanlog"><rect class="b" x="3694.6" y="893" width="151.8" height="100.9"/><line class="s" x1="3694.6" y1="909.1" x2="3846.4" y2="909.1"/><text class="t h" x="3770.5" y="904.5">lanlog</text><text class="t"><tspan x="3699.1" y="920.6">id (INTEGER) [PK]</tspan><tspan x="3699.1" dy="11.33">user_id (INTEGER) [FK]</tspan><tspan x="3699.1" dy="11.33">workstation_id (INTEGER) [FK]</tspan><tspan x="3699.1" dy="11.33">created_at (TIMESTAMP)</tspan><tspan x="3699.1" dy="11.33">updated_at (TIMESTAMP)</tspan><tspan x="3699.1" dy="11.33">is_online (BOOLEAN)</tspan><tspan x="3699.1" dy="11.33">os_used (VARCHAR)</tspan></text></g>
<g id="sf_guard_user_group"><rect class="b" x="3871.7" y="921.8" width="124.5" height="44.26"/><line class="s" x1="3871.7" y1="937.9" x2="3996.2" y2="937.9"/><text class="t h" x="3934" y="933.3">sf_guard_user_group</text><text class="t"><tspan x="3876.2" y="949.4">user_id (INTEGER) [FK]</tspan><tspan x="3876.2" dy="11.33">group_id (INTEGER) [FK]</tspan></text></g>
<g id="sf_guard_group_permission"><rect class="b" x="4008" y="921.8" width="145.9" height="44.26"/><line class="s" x1="4008" y1="937.9" x2="4153.9" y2="937.9"/><text class="t h" x="4081" y="933.3">sf_guard_group_permission</text><text class="t"><tspan x="4012.5" y="949.4">group_id (INTEGER) [FK]</tspan><tspan x="4012.5" dy="11.33">permission_id (INTEGER) [FK]</tspan></text></g>
<g id="wptool_item_type"><rect class="b" x="136.5" y="1149.9" width="125.2" height="89.58"/><line class="s" x1="136.5" y1="1166" x2="261.7" y2="1166"/><text class="t h" x="199.1" y="1161.4">wptool_item_type</text><text class="t"><tspan x="141" y="1177.5">id (INTEGER) [PK]</tspan><tspan x="141" dy="11.33">description (VARCHAR)</tspan><tspan x="141" dy="11.33">rank (INTEGER)</tspan><tspan x="141" dy="11.33">state (INTEGER)</tspan><tspan x="141" dy="11.33">min_selected (INTEGER)</tspan><tspan x="141" dy="11.33">max_selected (INTEGER)</tspan></text></g>
<g id="syllabus"><rect class="b" x="275.6" y="1149.9" width="105.9" height="89.58"/><line class="s" x1="275.6" y1="1166" x2="381.5" y2="1166"/><text class="t h" x="328.6" y="1161.4">syllabus</text><text class="t"><tspan x="280.1" y="1177.5">id (INTEGER) [PK]</tspan><tspan x="280.1" dy="11.33">name (VARCHAR)</tspan><tspan x="280.1" dy="11.33">version (VARCHAR)</tspan><tspan x="280.1" dy="11.33">author (VARCHAR)</tspan><tspan x="280.1" dy="11.33">href (VARCHAR)</tspan><tspan x="280.1" dy="11.33">is_active (BOOLEAN)</tspan></text></g>
<g id="subject"><rect class="b" x="438.7" y="1161.1" width="115.9" height="66.9"/><line class="s" x1="438.7" y1="1177.2" x2="554.6" y2="1177.2"/><text class="t h" x="496.7" y="1172.6">subject</text><text class="t"><tspan x="443.2" y="1188.7">id (INTEGER) [PK]</tspan><tspan x="443.2" dy="11.33">shortcut (VARCHAR)</tspan><tspan x="443.2" dy="11.33">description (VARCHAR)</tspan><tspan x="443.2" dy="11.33">rank (INTEGER)</tspan></text></g>
<g id="schoolclass"><rect class="b" x="590.5" y="1155.1" width="120.6" height="78.25"/><line class="s" x1="590.5" y1="1171.2" x2="711.1" y2="1171.2"/><text class="t h" x="650.8" y="1166.6">schoolclass</text><text class="t"><tspan x="595" y="1182.7">id (VARCHAR) [PK]</tspan><tspan x="595" dy="11.33">grade (INTEGER)</tspan><tspan x="595" dy="11.33">section (VARCHAR)</tspan><tspan x="595" dy="11.33">track_id (INTEGER) [FK]</tspan><tspan x="595" dy="11.33">description (VARCHAR)</tspan></text></g>
<g id="team"><rect class="b" x="753.7" y="1149.9" width="149.8" height="89.58"/><line class="s" x1="753.7" y1="1166" x2="903.5" y2="1166"/><text class="t h" x="828.6" y="1161.4">team</text><text class="t"><tspan x="758.2" y="1177.5">id (INTEGER) [PK]</tspan><tspan x="758.2" dy="11.33">description (VARCHAR)</tspan><tspan x="758.2" dy="11.33">posix_name (VARCHAR)</tspan><tspan x="758.2" dy="11.33">quality_code (VARCHAR)</tspan><tspan x="758.2" dy="11.33">needs_folder (BOOLEAN)</tspan><tspan x="758.2" dy="11.33">needs_mailing_list (BOOLEAN)</tspan></text></g>
<g id="year"><rect class="b" x="922.8" y="1161.1" width="115.8" height="66.9"/><line class="s" x1="922.8" y1="1177.2" x2="1038.6" y2="1177.2"/><text class="t h" x="980.7" y="1172.6">year</text><text class="t"><tspan x="927.3" y="1188.7">id (INTEGER) [PK]</tspan><tspan x="927.3" dy="11.33">description (VARCHAR)</tspan><tspan x="927.3" dy="11.33">start_date (DATE)</tspan><tspan x="927.3" dy="11.33">end_date (DATE)</tspan></text></g>
<g id="track"><rect class="b" x="592.5" y="1292.5" width="115.2" height="55.6"/><line class="s" x1="592.5" y1="1308.6" x2="707.7" y2="1308.6"/><text class="t h" x="650.1" y="1304">track</text><text class="t"><tspan x="597" y="1320.1">id (INTEGER) [PK]</tspan><tspan x="597" dy="11.33">shortcut (VARCHAR)</tspan><tspan x="597" dy="11.33">description (VARCHAR)</tspan></text></g>
<g id="role"><rect class="b" x="1103.9" y="1143.5" width="155.1" height="100.9"/><line class="s" x1="1103.9" y1="1159.6" x2="1259" y2="1159.6"/><text class="t h" x="1181.5" y="1155">role</text><text class="t"><tspan x="1108.4" y="1171.1">id (INTEGER) [PK]</tspan><tspan x="1108.4" dy="11.33">male_description (VARCHAR)</tspan><tspan x="1108.4" dy="11.33">female_description (VARCHAR)</tspan><tspan x="1108.4" dy="11.33">quality_code (VARCHAR)</tspan><tspan x="1108.4" dy="11.33">posix_name (VARCHAR)</tspan><tspan x="1108.4" dy="11.33">may_be_main_role (BOOLEAN)</tspan><tspan x="1108.4" dy="11.33">default_guardgroup (VARCHAR)</tspan></text></g>
<g id="proj_category"><rect class="b" x="1488.7" y="1161.1" width="106.6" height="66.9"/><line class="s" x1="1488.7" y1="1177.2" x2="1595.3" y2="1177.2"/><text class="t h" x="1542" y="1172.6">proj_category</text><text class="t"><tspan x="1493.2" y="1188.7">id (INTEGER) [PK]</tspan><tspan x="1493.2" dy="11.33">title (VARCHAR)</tspan><tspan x="1493.2" dy="11.33">rank (INTEGER)</tspan><tspan x="1493.2" dy="11.33">resources (INTEGER)</tspan></text></g>
<g id="proj_financing"><rect class="b" x="1607.9" y="1166.7" width="115.2" height="55.6"/><line class="s" x1="1607.9" y1="1182.8" x2="1723.1" y2="1182.8"/><text class="t h" x="1665.5" y="1178.2">proj_financing</text><text class="t"><tspan x="1612.4" y="1194.3">id (INTEGER) [PK]</tspan><tspan x="1612.4" dy="11.33">description (VARCHAR)</tspan><tspan x="1612.4" dy="11.33">rank (INTEGER)</tspan></text></g>
<g id="sf_guard_user"><rect class="b" x="2538.1" y="1132.7" width="138.4" height="123.6"/><line class="s" x1="2538.1" y1="1148.8" x2="2676.5" y2="1148.8"/><text class="t h" x="2607.3" y="1144.2">sf_guard_user</text><text class="t"><tspan x="2542.6" y="1160.3">id (INTEGER) [PK]</tspan><tspan x="2542.6" dy="11.33">username (VARCHAR)</tspan><tspan x="2542.6" dy="11.33">algorithm (VARCHAR)</tspan><tspan x="2542.6" dy="11.33">salt (VARCHAR)</tspan><tspan x="2542.6" dy="11.33">password (VARCHAR)</tspan><tspan x="2542.6" dy="11.33">created_at (TIMESTAMP)</tspan><tspan x="2542.6" dy="11.33">last_login (TIMESTAMP)</tspan><tspan x="2542.6" dy="11.33">is_active (BOOLEAN)</tspan><tspan x="2542.6" dy="11.33">is_super_admin (BOOLEAN)</tspan></text></g>
<g id="ticket"><rect class="b" x="3028.7" y="1154.7" width="148.6" height="78.25"/><line class="s" x1="3028.7" y1="1170.8" x2="3177.3" y2="1170.8"/><text class="t h" x="3103" y="1166.2">ticket</text><text class="t"><tspan x="3033.2" y="1182.3">id (INTEGER) [PK]</tspan><tspan x="3033.2" dy="11.33">referrer (VARCHAR)</tspan><tspan x="3033.2" dy="11.33">ticket_type_id (INTEGER) [FK]</tspan><tspan x="3033.2" dy="11.33">updated_at (TIMESTAMP)</tspan><tspan x="3033.2" dy="11.33">state (INTEGER)</tspan></text></g>
<g id="ticket_type"><rect class="b" x="3044.7" y="1298" width="116.6" height="44.26"/><line class="s" x1="3044.7" y1="1314.1" x2="3161.3" y2="1314.1"/><text class="t h" x="3103" y="1309.5">ticket_type</text><text class="t"><tspan x="3049.2" y="1325.6">id (INTEGER) [PK]</tspan><tspan x="3049.2" dy="11.33">description (VARCHAR)</tspan></text></g>
<g id="account_type"><rect class="b" x="3489.5" y="1155.1" width="141.8" height="78.25"/><line class="s" x1="3489.5" y1="1171.2" x2="3631.3" y2="1171.2"/><text class="t h" x="3560.4" y="1166.6">account_type</text><text class="t"><tspan x="3494" y="1182.7">id (INTEGER) [PK]</tspan><tspan x="3494" dy="11.33">name (VARCHAR)</tspan><tspan x="3494" dy="11.33">description (LONGVARCHAR)</tspan><tspan x="3494" dy="11.33">is_external (BOOLEAN)</tspan><tspan x="3494" dy="11.33">rank (INTEGER)</tspan></text></g>
<g id="workstation"><rect class="b" x="3644" y="1149.9" width="128.5" height="89.58"/><line class="s" x1="3644" y1="1166" x2="3772.5" y2="1166"/><text class="t h" x="3708.3" y="1161.4">workstation</text><text class="t"><tspan x="3648.5" y="1177.5">id (INTEGER) [PK]</tspan><tspan x="3648.5" dy="11.33">name (VARCHAR)</tspan><tspan x="3648.5" dy="11.33">ip_cidr (VARCHAR)</tspan><tspan x="3648.5" dy="11.33">mac_address (VARCHAR)</tspan><tspan x="3648.5" dy="11.33">is_enabled (BOOLEAN)</tspan><tspan x="3648.5" dy="11.33">subnet_id (INTEGER) [FK]</tspan></text></g>
<g id="sf_guard_permission"><rect class="b" x="3817.8" y="1166.7" width="141.8" height="55.6"/><line class="s" x1="3817.8" y1="1182.8" x2="3959.6" y2="1182.8"/><text class="t h" x="3888.7" y="1178.2">sf_guard_permission</text><text class="t"><tspan x="3822.3" y="1194.3">id (INTEGER) [PK]</tspan><tspan x="3822.3" dy="11.33">name (VARCHAR)</tspan><tspan x="3822.3" dy="11.33">description (LONGVARCHAR)</tspan></text></g>
<g id="sf_guard_group"><rect class="b" x="4006.2" y="1166.7" width="141.8" height="55.6"/><line class="s" x1="4006.2" y1="1182.8" x2="4148" y2="1182.8"/><text class="t h" x="4077.1" y="1178.2">sf_guard_group</text><text class="t"><tspan x="4010.7" y="1194.3">id (INTEGER) [PK]</tspan><tspan x="4010.7" dy="11.33">name (VARCHAR)</tspan><tspan x="4010.7" dy="11.33">description (LONGVARCHAR)</tspan></text></g>
<g id="subnet"><rect class="b" x="3660.6" y="1292.5" width="95.2" height="55.6"/><line class="s" x1="3660.6" y1="1308.6" x2="3755.8" y2="1308.6"/><text class="t h" x="3708.2" y="1304">subnet</text><text class="t"><tspan x="3665.1" y="1320.1">id (INTEGER) [PK]</tspan><tspan x="3665.1" dy="11.33">name (VARCHAR)</tspan><tspan x="3665.1" dy="11.33">ip_cidr (VARCHAR)</tspan></text></g>
</svg>
